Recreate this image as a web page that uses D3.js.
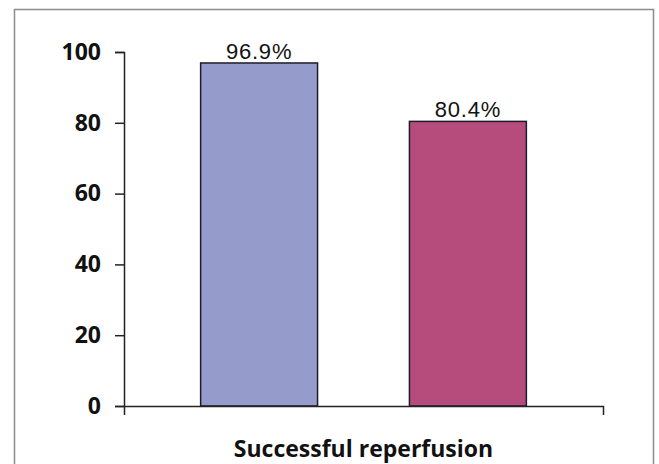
<!DOCTYPE html>
<html>
<head>
<meta charset="utf-8">
<script src="https://cdn.jsdelivr.net/npm/d3@7"></script>
<style>
  body { margin: 0; background: #fff; }
</style>
</head>
<body>
<div id="chart"></div>
<script>
// values
const groups = ["Group 1", "Group 2"];
const values = [96.9, 80.4];
const colors = ["#959bcb", "#b54c7b"];
const yTicks = [0, 20, 40, 60, 80, 100];
const categoryLabel = "Successful reperfusion";

const width = 659, height = 464;
const margin = { top: 52, right: 56, bottom: 58, left: 124 };

const svg = d3.select("#chart").append("svg")
  .attr("width", width)
  .attr("height", height);

// outer frame
svg.append("rect")
  .attr("x", 14.5).attr("y", 9.5)
  .attr("width", 639).attr("height", 470)
  .attr("fill", "none")
  .attr("stroke", "#8c8c8c")
  .attr("stroke-width", 1.5);

const x = d3.scaleBand()
  .domain(groups)
  .range([margin.left, width - margin.right])
  .paddingInner(0.44)
  .paddingOuter(0.367);

const y = d3.scaleLinear()
  .domain([0, 100])
  .range([height - margin.bottom, margin.top]);

// bars
svg.append("g")
  .selectAll("rect")
  .data(values)
  .join("rect")
  .attr("x", (d, i) => x(groups[i]))
  .attr("y", d => y(d))
  .attr("width", x.bandwidth())
  .attr("height", d => y(0) - y(d))
  .attr("fill", (d, i) => colors[i])
  .attr("stroke", "#1c1c2a")
  .attr("stroke-width", 1.5);

// value labels
svg.append("g")
  .selectAll("text")
  .data(values)
  .join("text")
  .attr("x", (d, i) => x(groups[i]) + x.bandwidth() / 2)
  .attr("y", d => y(d) - 4)
  .attr("text-anchor", "middle")
  .attr("font-family", "Liberation Sans, Arial, sans-serif")
  .attr("font-size", 22)
  .attr("letter-spacing", 0.8)
  .attr("fill", "#111")
  .text(d => d.toFixed(1) + "%");

// y axis
const yAxis = svg.append("g")
  .attr("transform", `translate(${margin.left},0)`)
  .call(d3.axisLeft(y).tickValues(yTicks).tickSize(9).tickSizeOuter(9).tickPadding(14));
yAxis.selectAll("path, line").attr("stroke", "#222").attr("stroke-width", 1.5);
yAxis.selectAll("text")
  .attr("font-family", "Open Sans, sans-serif")
  .attr("font-weight", "bold")
  .attr("font-size", 23)
  .attr("fill", "#111");

// x axis (single category, outer ticks only)
const xAxis = svg.append("g")
  .attr("transform", `translate(0,${y(0)})`)
  .call(d3.axisBottom(x).tickSize(0).tickSizeOuter(9).tickFormat(""));
xAxis.selectAll("path").attr("stroke", "#222").attr("stroke-width", 1.5);

svg.append("text")
  .attr("x", (margin.left + width - margin.right) / 2)
  .attr("y", 457)
  .attr("text-anchor", "middle")
  .attr("font-family", "Open Sans, sans-serif")
  .attr("font-weight", "bold")
  .attr("font-size", 23)
  .attr("fill", "#111")
  .text(categoryLabel);
</script>
</body>
</html>
